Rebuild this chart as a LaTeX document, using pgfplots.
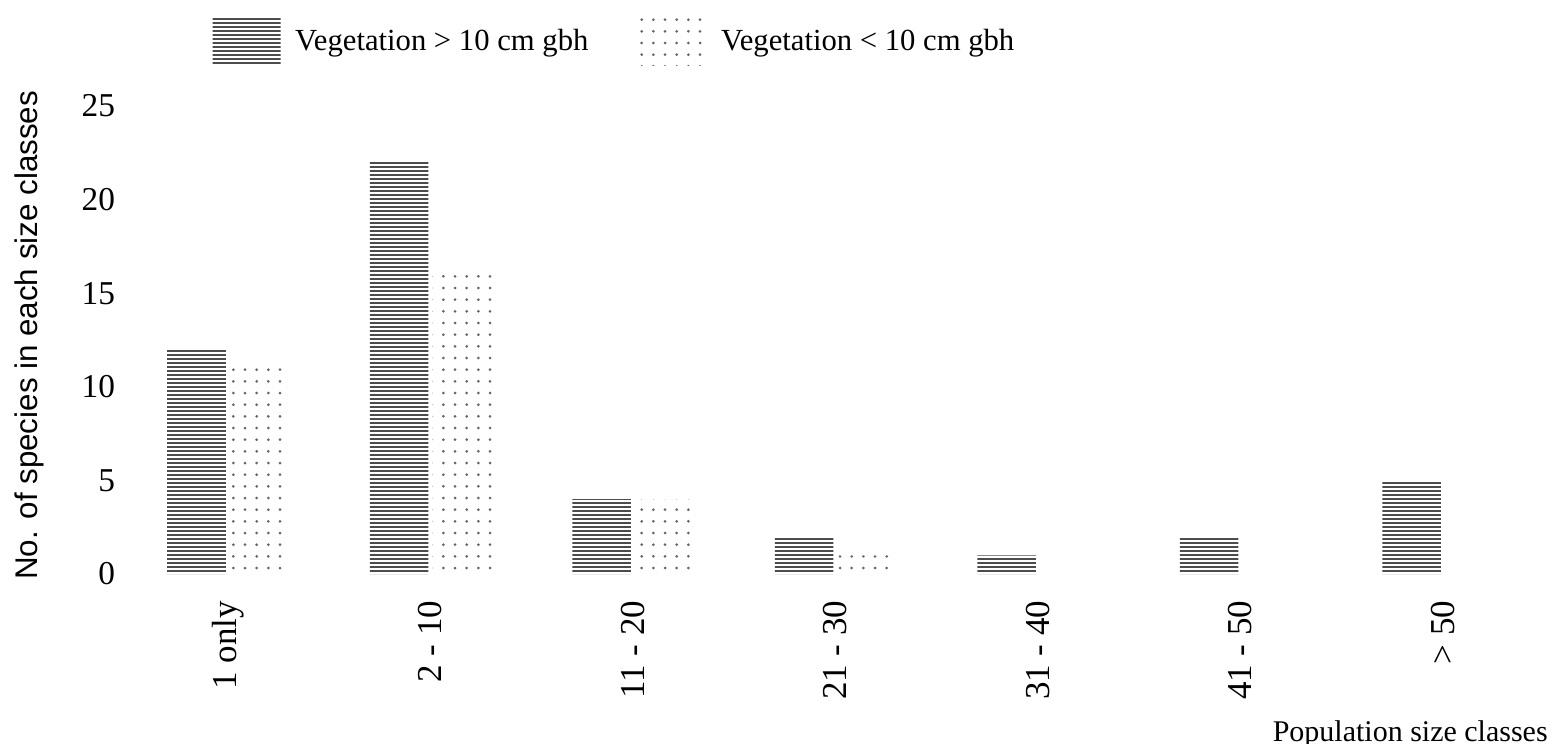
\documentclass[border=0pt]{standalone}
\usepackage{fontspec}
\setmainfont{Liberation Serif}
\setsansfont{Liberation Sans}
\usepackage{pgfplots}
\pgfplotsset{compat=1.18}
\usetikzlibrary{patterns.meta}

\begin{document}
\begin{tikzpicture}
\begin{axis}[
  x=60.75pt, y=5.616pt,
  xmin=-0.5, xmax=6.55, ymin=0, ymax=25.5,
  axis line style={draw=none},
  tick style={draw=none},
  ytick={0,5,...,25},
  xtick={0,...,6},
  xticklabels={1 only, 2 - 10, 11 - 20, 21 - 30, 31 - 40, 41 - 50, > 50},
  xticklabel style={rotate=90, anchor=east, font=\fontsize{10.5}{12}\selectfont},
  xticklabel shift=4.5pt,
  yticklabel style={font=\fontsize{10}{12}\selectfont},
  /pgf/number format/assume math mode=true,
  ylabel={No. of species in each size classes},
  ylabel style={font=\sffamily\fontsize{9.4}{11}\selectfont},
  ylabel shift=4.5pt,
  xlabel={Population size classes},
  xlabel style={at={(axis description cs:1,0)}, anchor=base east, inner sep=0pt,
    yshift=-50.2pt, xshift=-1.8pt, font=\fontsize{9}{11}\selectfont},
  legend columns=2,
  legend cell align=left,
  legend style={at={(axis description cs:0.0596,1.1646)}, anchor=north west,
    draw=none, fill=none, inner sep=0pt, font=\fontsize{9.2}{11}\selectfont,
    /tikz/every odd column/.append style={column sep=2.4pt},
    /tikz/every even column/.append style={column sep=13pt}},
  legend image code/.code={\fill[#1] (0pt,-7.05pt) rectangle (20.4pt,7.05pt);},
]
\addplot[ybar, bar width=0.29, bar shift=-0.155, draw=none,
  pattern={Lines[distance=1.2pt, line width=0.6pt]}, pattern color=black!70]
  coordinates {(0,12) (1,22) (2,4) (3,2) (4,1) (5,2) (6,5)};
\addlegendentry{Vegetation > 10 cm gbh}
\addplot[ybar, bar width=0.29, bar shift=0.155, draw=none,
  pattern={Dots[distance=3.5pt, radius=0.45pt]}, pattern color=black!60]
  coordinates {(0,11) (1,16) (2,4) (3,1) (4,0) (5,0) (6,0)};
\addlegendentry{Vegetation < 10 cm gbh}
\coordinate (O) at (axis cs:0,0);
\end{axis}
\pgfresetboundingbox
\path[use as bounding box] ([shift={(-68.4pt,-50.7pt)}]O) rectangle ([shift={(398.1pt,172.2pt)}]O);
\end{tikzpicture}
\end{document}
